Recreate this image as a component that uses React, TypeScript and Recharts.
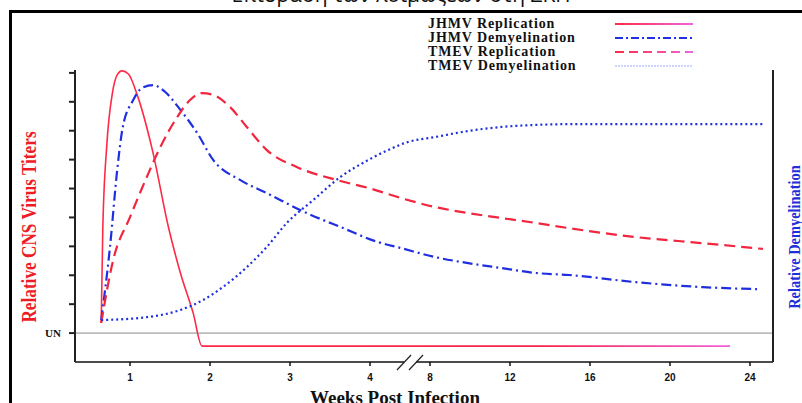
import React from "react";
import {
  LineChart,
  Line,
  XAxis,
  YAxis,
  ReferenceLine,
} from "recharts";

// x ticks (weeks), with a break between 4 and 8
const weekTicks = [1, 2, 3, 4, 8, 12, 16, 20, 24];
const weekLabels = ["1", "2", "3", "4", "8", "12", "16", "20", "24"];
const yTicks = [0, 1, 2, 3, 4, 5, 6, 7, 8, 9];

const jhmvRepWeeks = [0.64, 0.66, 0.71, 0.78, 0.84, 0.9, 0.98, 1.09, 1.28, 1.48, 1.63, 1.79, 1.9, 23.0];
const jhmvRepValues = [0.35, 3.6, 6.5, 8.3, 8.93, 9.07, 8.96, 8.24, 6.33, 3.67, 2.08, 0.69, -0.45, -0.45];

const jhmvDemWeeks = [0.64, 0.75, 0.84, 0.91, 1.04, 1.15, 1.29, 1.44, 1.63, 1.84, 2.04, 2.38, 2.71, 3.21, 3.63, 4.53, 6.07, 8.25, 9.91, 11.57, 13.28, 14.94, 18.31, 21.64, 24.35];
const jhmvDemValues = [0.45, 2.98, 5.64, 7.13, 8.06, 8.48, 8.58, 8.34, 7.72, 6.92, 5.99, 5.29, 4.84, 4.15, 3.67, 3.15, 2.94, 2.63, 2.42, 2.25, 2.08, 2.01, 1.76, 1.59, 1.52];

const tmevRepWeeks = [0.64, 0.79, 1.0, 1.21, 1.38, 1.59, 1.75, 1.9, 2.04, 2.25, 2.46, 2.71, 3.09, 3.59, 3.98, 6.07, 8.25, 9.91, 11.57, 13.28, 14.94, 18.31, 21.64, 24.65];
const tmevRepValues = [0.35, 2.53, 4.01, 5.4, 6.44, 7.47, 8.06, 8.3, 8.24, 7.82, 7.13, 6.33, 5.74, 5.29, 5.02, 4.67, 4.36, 4.15, 3.98, 3.81, 3.63, 3.32, 3.11, 2.91];

const tmevDemWeeks = [0.64, 1.21, 1.63, 1.91, 2.16, 2.46, 2.71, 2.96, 3.29, 3.63, 3.98, 5.2, 6.53, 8.25, 9.91, 11.57, 13.28, 15.45, 24.75];
const tmevDemValues = [0.45, 0.55, 0.8, 1.14, 1.59, 2.28, 2.98, 3.81, 4.6, 5.4, 5.99, 6.33, 6.61, 6.78, 6.99, 7.13, 7.2, 7.23, 7.23];

const RED = "#f2263f";
const BLUE = "#1f2fe0";

// weeks 1-4 are spaced one unit apart, weeks 8-24 one unit per 4 weeks
function weekToPos(w: number): number {
  if (w <= 4) return w;
  if (w < 8) return 4 + (w - 4) * 0.1875;
  return 4.75 + (w - 8) / 4;
}

function toSeries(weeks: number[], values: number[]) {
  return weeks.map((w, i) => ({ pos: weekToPos(w), value: values[i] }));
}

const tickPositions = weekTicks.map(weekToPos);

const series = [
  { name: "JHMV Replication", data: toSeries(jhmvRepWeeks, jhmvRepValues), stroke: "url(#redFade)", fade: true, legendStroke: RED, legendDash: undefined, legendWidth: 2, dash: undefined, width: 1.6 },
  { name: "JHMV Demyelination", data: toSeries(jhmvDemWeeks, jhmvDemValues), stroke: BLUE, fade: false, legendStroke: BLUE, legendDash: "8 3 2 3", legendWidth: 2, dash: "10 4 2 4", width: 2.2 },
  { name: "TMEV Replication", data: toSeries(tmevRepWeeks, tmevRepValues), stroke: RED, fade: true, legendStroke: RED, legendDash: "9 5", legendWidth: 2, dash: "11 6", width: 2.2 },
  { name: "TMEV Demyelination", data: toSeries(tmevDemWeeks, tmevDemValues), stroke: BLUE, fade: false, legendStroke: "#9aa8ff", legendDash: "2 1", legendWidth: 1, dash: "2 3", width: 2.2 },
];

function LegendBox() {
  return (
    <div style={{ fontFamily: "Liberation Serif", fontWeight: 700, fontSize: 14, letterSpacing: 0.9 }}>
      {series.map((s, i) => (
        <div key={s.name} style={{ display: "flex", alignItems: "center", height: 14 }}>
          <span style={{ width: 187, color: "#111", whiteSpace: "nowrap" }}>{s.name}</span>
          <svg width={78} height={6}>
            <defs>
              <linearGradient id={"legendFade" + i} gradientUnits="userSpaceOnUse" x1={0} y1={0} x2={78} y2={0}>
                <stop offset="0%" stopColor="#ff2a45" />
                <stop offset="100%" stopColor="#ee66dd" />
              </linearGradient>
            </defs>
            <line
              x1={0}
              y1={3}
              x2={78}
              y2={3}
              stroke={s.fade ? `url(#legendFade${i})` : s.legendStroke}
              strokeWidth={s.legendWidth}
              strokeDasharray={s.legendDash}
            />
          </svg>
        </div>
      ))}
    </div>
  );
}

export default function App() {
  return (
    <div
      style={{
        position: "absolute",
        left: 0,
        top: 0,
        width: 802,
        height: 403,
        overflow: "hidden",
        background: "#fff",
      }}
    >
      <div
        style={{
          position: "absolute",
          left: 0,
          width: 802,
          top: -18,
          textAlign: "center",
          fontFamily: "Open Sans",
          fontSize: 21,
          lineHeight: "24px",
          color: "#111",
        }}
      >
        Επίδραση των λοιμώξεων στη ΣΚΠ
      </div>
      <div
        style={{
          position: "absolute",
          left: 9,
          top: 10,
          width: 820,
          height: 420,
          borderTop: "3px solid #000",
          borderLeft: "3px solid #000",
        }}
      />

      <LineChart width={802} height={403} margin={{ top: 70, right: 9, bottom: 11, left: 35 }}>
        <defs>
          <linearGradient id="redFade" x1="0" y1="0" x2="1" y2="0">
            <stop offset="0%" stopColor="#ff2a45" />
            <stop offset="70%" stopColor="#f5254a" />
            <stop offset="100%" stopColor="#f060d8" />
          </linearGradient>
        </defs>
        <XAxis
          dataKey="pos"
          type="number"
          domain={[0.3125, 9.0375]}
          allowDataOverflow
          ticks={tickPositions}
          tickFormatter={(v: number) => weekLabels[tickPositions.indexOf(v)] ?? ""}
          height={30}
          tickSize={4}
          tickMargin={8}
          stroke="#111"
          strokeWidth={1.5}
          tick={{ fontSize: 10, fontWeight: 700, fontFamily: "Liberation Sans", fill: "#111" }}
        />
        <YAxis
          yAxisId="left"
          type="number"
          domain={[-1, 9.1]}
          ticks={yTicks}
          width={40}
          tickSize={6}
          tickMargin={8}
          stroke="#222"
          strokeWidth={2}
          tickFormatter={(v: number) => (v === 0 ? "UN" : "")}
          tick={{ fontSize: 11, fontWeight: 700, fontFamily: "Liberation Serif", fill: "#111" }}
        />
        <YAxis
          yAxisId="right"
          orientation="right"
          type="number"
          domain={[-1, 9.1]}
          ticks={yTicks}
          width={20}
          tickSize={6}
          stroke="#222"
          strokeWidth={2}
          tickFormatter={() => ""}
        />
        <ReferenceLine yAxisId="left" y={0} stroke="#8a8a8a" strokeWidth={1} />
        {series.map((s) => (
          <Line
            key={s.name}
            yAxisId="left"
            data={s.data}
            dataKey="value"
            name={s.name}
            type="monotone"
            stroke={s.stroke}
            strokeWidth={s.width}
            strokeDasharray={s.dash}
            dot={false}
            activeDot={false}
            isAnimationActive={false}
          />
        ))}
      </LineChart>

      <div style={{ position: "absolute", left: 428, top: 17 }}>
        <LegendBox />
      </div>

      {/* axis break marks between 4 and 8 */}
      <svg style={{ position: "absolute", left: 392, top: 352 }} width={44} height={20}>
        <rect x={12} y={8} width={12} height={4} fill="#fff" />
        <line x1={5} y1={18} x2={19} y2={3} stroke="#222" strokeWidth={1.2} />
        <line x1={17} y1={18} x2={31} y2={3} stroke="#222" strokeWidth={1.2} />
      </svg>

      <div
        style={{
          position: "absolute",
          left: 29,
          top: 227,
          transform: "translate(-50%, -50%) rotate(-90deg) scaleX(0.82)",
          whiteSpace: "nowrap",
          fontFamily: "Liberation Serif",
          fontWeight: 700,
          fontSize: 21,
          color: "#ee1c25",
        }}
      >
        Relative CNS Virus Titers
      </div>
      <div
        style={{
          position: "absolute",
          left: 795,
          top: 237,
          transform: "translate(-50%, -50%) rotate(-90deg) scaleX(0.9)",
          whiteSpace: "nowrap",
          fontFamily: "Liberation Serif",
          fontWeight: 700,
          fontSize: 16,
          color: "#1f2fd8",
        }}
      >
        Relative Demyelination
      </div>
      <div
        style={{
          position: "absolute",
          left: 0,
          width: 790,
          top: 387,
          textAlign: "center",
          fontFamily: "Liberation Serif",
          fontWeight: 700,
          fontSize: 19,
          color: "#111",
        }}
      >
        Weeks Post Infection
      </div>
    </div>
  );
}
